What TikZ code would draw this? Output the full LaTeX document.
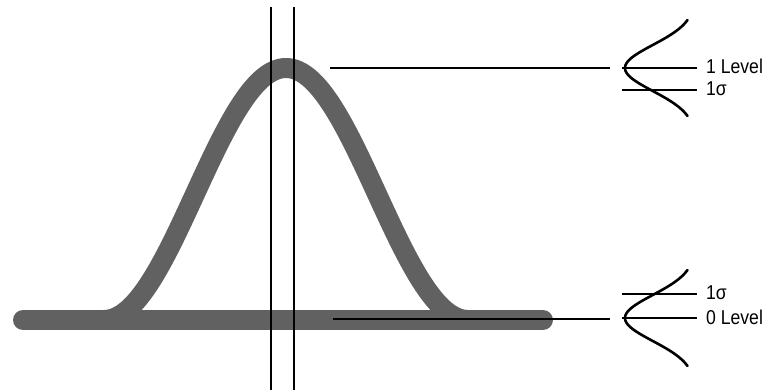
\documentclass[tikz,border=0pt]{standalone}
\usepackage{fontspec}
\setmainfont{Liberation Sans}[FakeStretch=0.88]
\usepackage{tikz}

\begin{document}
\begin{tikzpicture}[x=1pt,y=-1pt,
  noisy/.style={line width=20pt, black!62, line cap=round, line join=round},
  level/.style={line width=1.3pt},
  spread/.style={line width=2.6pt, line cap=round},
  lbl/.style={anchor=base west, inner sep=0pt, font=\fontsize{20}{22}\selectfont}]
\useasboundingbox (0,0) rectangle (769,390);

% Noisy trace: zero level and the raised pulse
\draw[noisy] (23,320) -- (543,320);
\draw[noisy, line cap=butt] plot[domain=-182:182, samples=121, smooth]
  ({286+\x},{320-126*(1+cos(\x/182*180))});

% Sampling window
\draw[line width=2pt] (271,7) -- (271,390);
\draw[line width=2pt] (294,7) -- (294,390);

% Level lines out to the right
\coordinate (one a) at (330,68);
\coordinate (one b) at (610,68);
\coordinate (zero a) at (333,319);
\coordinate (zero b) at (610,319);
\draw[level] (one a) -- (one b);
\draw[level] (zero a) -- (zero b);

% Spread of the 1 level
\coordinate (one c) at (622,68);
\coordinate (one d) at (697,68);
\coordinate (sig1 c) at (622,90);
\coordinate (sig1 d) at (697,90);
\draw[level] (one c) -- (one d);
\draw[level] (sig1 c) -- (sig1 d);
\draw[spread] plot[domain=-48:48, samples=61, smooth]
  ({625+70.5*(1-exp(-(\x/23)*(\x/23)/2))},{68+\x});
\node (lvl1) [lbl] at (706,74) {1 Level};
\node (sig1) [lbl] at (706,96) {1σ};

% Spread of the 0 level
\coordinate (zero c) at (622,318);
\coordinate (zero d) at (697,318);
\coordinate (sig0 c) at (622,294);
\coordinate (sig0 d) at (697,294);
\draw[level] (zero c) -- (zero d);
\draw[level] (sig0 c) -- (sig0 d);
\draw[spread] plot[domain=-48:48, samples=61, smooth]
  ({625+70.5*(1-exp(-(\x/23)*(\x/23)/2))},{318+\x});
\node (lvl0) [lbl] at (706,324) {0 Level};
\node (sig0) [lbl] at (706,300) {1σ};

\end{tikzpicture}
\end{document}
